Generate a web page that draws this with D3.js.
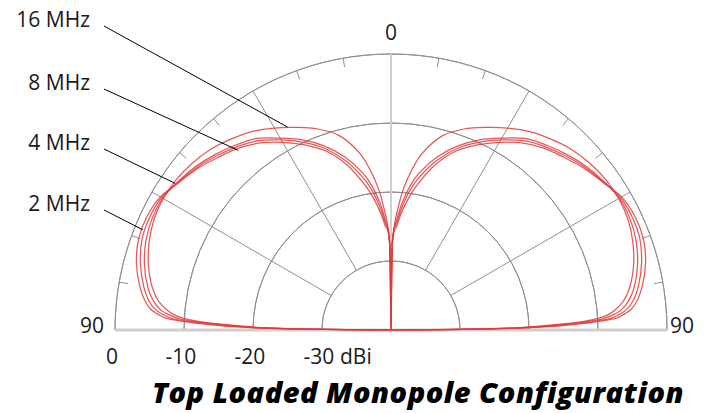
<!DOCTYPE html>
<html>
<head>
<meta charset="utf-8">
<script src="https://cdn.jsdelivr.net/npm/d3@7"></script>
<style>
body { margin: 0; background: #fff; }
text { font-family: "Open Sans", sans-serif; fill: #1a1a1a; }
</style>
</head>
<body>
<div id="chart"></div>
<script>
// angle from zenith (deg), gain in dBi, pattern is symmetric left/right
var angles = [0, 1, 2, 3, 5, 7.5, 10, 15, 20, 25, 30, 35, 40, 45, 50, 55, 60, 65, 70, 75, 80, 83, 85, 86, 87, 88, 89, 90];
var gain16 = [-50, -27, -24.5, -22.8, -19.5, -16.5, -14.0, -10.8, -9.0, -7.6, -6.2, -4.9, -3.9, -3.0, -2.4, -2.0, -1.9, -2.1, -2.7, -3.6, -4.9, -6.1, -7.5, -8.5, -10.5, -15, -22, -50];
var gain8  = [-50, -27, -25, -24, -21.5, -19, -17.0, -14.0, -11.6, -9.6, -7.9, -6.1, -5.0, -4.0, -3.1, -2.4, -1.8, -1.8, -2.2, -3.0, -4.2, -5.3, -6.5, -7.6, -9.3, -14, -21, -50];
var gain4  = [-50, -27, -25.2, -24.5, -22.3, -19.8, -17.8, -14.6, -12.0, -10.0, -8.2, -6.5, -5.3, -4.3, -3.3, -2.5, -1.6, -1.4, -1.6, -2.4, -3.6, -4.6, -5.7, -6.7, -8.2, -13, -20, -50];
var gain2  = [-50, -27, -25.5, -25, -23, -20.8, -18.8, -15.2, -12.4, -10.4, -8.6, -6.9, -5.6, -4.6, -3.5, -2.6, -1.4, -1.0, -1.1, -1.8, -3.0, -4.0, -5.0, -6.0, -7.3, -12, -19, -50];
var seriesNames = ['16 MHz', '8 MHz', '4 MHz', '2 MHz'];
var seriesGain = [gain16, gain8, gain4, gain2];

var ringLevels = [-30, -20, -10, 0];
var ringLabels = ['0', '-10', '-20', '-30'];
var spokeAngles = [-60, -30, 30, 60];
var tickAngles = [-80, -70, -50, -40, -20, -10, 10, 20, 40, 50, 70, 80];

// where each leader line touches the pattern (angle, dBi)
var leaderAngle = [27, 40.4, 55.8, 68];
var leaderDb = [-7.0, -5.8, -2.2, -1.2];
var labelY = [27, 90, 150, 211];

var width = 713, height = 413;
var cx = 391, cy = 330, R = 276;

var r = d3.scaleLinear().domain([-40, 0]).range([0, R]).clamp(true);
var rad = Math.PI / 180;

var svg = d3.select('#chart').append('svg')
    .attr('width', width)
    .attr('height', height);

var g = svg.append('g').attr('transform', 'translate(' + cx + ',' + cy + ')');

function px(a, db) { return r(db) * Math.sin(a * rad); }
function py(a, db) { return -r(db) * Math.cos(a * rad); }

// rings
var arc = d3.arc().startAngle(-Math.PI / 2).endAngle(Math.PI / 2);
g.selectAll('.ring')
    .data(ringLevels)
    .enter().append('path')
    .attr('class', 'ring')
    .attr('d', function (d) { return arc({innerRadius: r(d), outerRadius: r(d)}); })
    .attr('fill', 'none')
    .attr('stroke', '#909090')
    .attr('stroke-width', 1);

// spokes from -30 ring to outer ring
g.selectAll('.spoke')
    .data(spokeAngles)
    .enter().append('line')
    .attr('x1', function (d) { return px(d, -30); })
    .attr('y1', function (d) { return py(d, -30); })
    .attr('x2', function (d) { return px(d, 0); })
    .attr('y2', function (d) { return py(d, 0); })
    .attr('stroke', '#909090')
    .attr('stroke-width', 1);

// ticks on outer ring
g.selectAll('.tick')
    .data(tickAngles)
    .enter().append('line')
    .attr('x1', function (d) { return Math.sin(d * rad) * (R - 9); })
    .attr('y1', function (d) { return -Math.cos(d * rad) * (R - 9); })
    .attr('x2', function (d) { return Math.sin(d * rad) * R; })
    .attr('y2', function (d) { return -Math.cos(d * rad) * R; })
    .attr('stroke', '#909090')
    .attr('stroke-width', 1);

// vertical axis and baseline
g.append('line')
    .attr('x1', 0).attr('y1', 0).attr('x2', 0).attr('y2', -R)
    .attr('stroke', '#cfcfcf').attr('stroke-width', 2);
g.append('line')
    .attr('x1', -R).attr('y1', 0).attr('x2', R).attr('y2', 0)
    .attr('stroke', '#cfcfcf').attr('stroke-width', 3);

// patterns
var line = d3.lineRadial()
    .angle(function (d) { return d.a * rad; })
    .radius(function (d) { return r(d.v); })
    .curve(d3.curveCatmullRom.alpha(0.5));

seriesGain.forEach(function (gain) {
    var pts = [];
    for (var i = angles.length - 1; i > 0; i--) pts.push({a: -angles[i], v: gain[i]});
    for (var j = 0; j < angles.length; j++) pts.push({a: angles[j], v: gain[j]});
    g.append('path')
        .attr('d', line(pts))
        .attr('fill', 'none')
        .attr('stroke', '#e03a3a')
        .attr('stroke-opacity', 0.85)
        .attr('stroke-width', 1.25);
});

// angle labels
svg.append('text').attr('x', cx).attr('y', 40).attr('text-anchor', 'middle')
    .style('font-size', '21px').text('0');
svg.append('text').attr('x', cx - R - 11).attr('y', cy + 3).attr('text-anchor', 'end')
    .style('font-size', '21px').text('90');
svg.append('text').attr('x', cx + R + 3).attr('y', cy + 3).attr('text-anchor', 'start')
    .style('font-size', '21px').text('90');

// dB labels under baseline
svg.selectAll('.dblab')
    .data(ringLevels.slice().reverse())
    .enter().append('text')
    .attr('x', function (d) { return cx - r(d) - 3; })
    .attr('y', cy + 34)
    .attr('text-anchor', 'middle')
    .style('font-size', '21px')
    .text(function (d, i) { return ringLabels[i]; });
svg.append('text').attr('x', cx - r(-30) + 18).attr('y', cy + 34)
    .style('font-size', '21px').text('dBi');

// frequency labels with leaders
seriesNames.forEach(function (name, i) {
    svg.append('text')
        .attr('x', 90).attr('y', labelY[i])
        .attr('text-anchor', 'end')
        .style('font-size', '21px')
        .text(name);
    svg.append('line')
        .attr('x1', 104).attr('y1', labelY[i] - 1)
        .attr('x2', cx - r(leaderDb[i]) * Math.sin(leaderAngle[i] * rad))
        .attr('y2', cy - r(leaderDb[i]) * Math.cos(leaderAngle[i] * rad))
        .attr('stroke', '#000')
        .attr('stroke-width', 1);
});

// title
svg.append('text')
    .attr('x', 418).attr('y', 403)
    .attr('text-anchor', 'middle')
    .style('font-size', '29px')
    .style('font-weight', '800')
    .style('font-style', 'italic')
    .style('letter-spacing', '0.5px')
    .style('fill', '#000')
    .text('Top Loaded Monopole Configuration');
</script>
</body>
</html>
